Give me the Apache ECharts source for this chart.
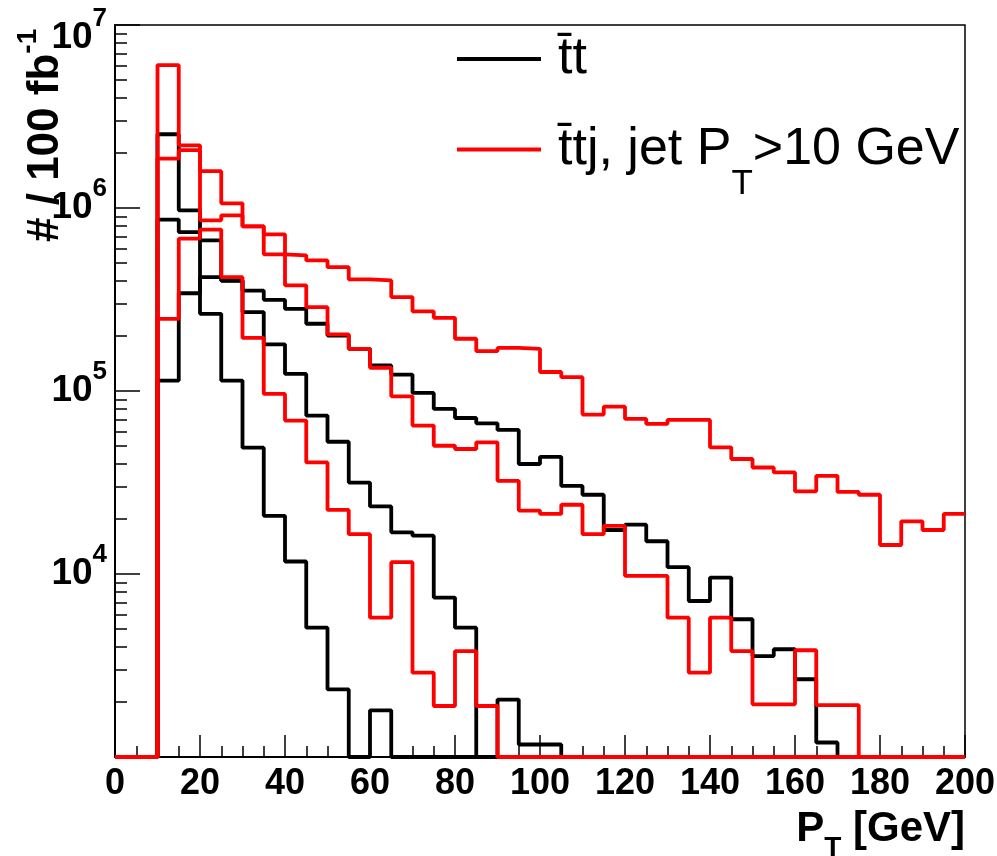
<!DOCTYPE html>
<html>
<head>
<meta charset="utf-8">
<script src="https://cdn.jsdelivr.net/npm/echarts@6/dist/echarts.min.js"></script>
<style>
  html, body { margin: 0; padding: 0; background: #fff; }
  #chart { width: 997px; height: 856px; }
</style>
</head>
<body>
<div id="chart"></div>
<script>
// ---- data: histogram contents per 5 GeV bin, bins [0,5) ... [195,200) ----
const BIN_WIDTH = 5;
const X_MIN = 0, X_MAX = 200;
const Y_MIN = 1e3, Y_MAX = 1e7;
const X_TICK_LABELS = [0, 20, 40, 60, 80, 100, 120, 140, 160, 180, 200];
const Y_TICK_LABELS = [1e4, 1e5, 1e6, 1e7];

const NAME_TT  = 't\u0304t';
const NAME_TTJ = 't\u0304tj, jet P_T>10 GeV';

// ttbar (black), three distributions
const ttA = [0, 0, 1.14e5, 3.42e5, 4.19e5, 4.00e5, 3.54e5, 3.15e5, 2.81e5, 2.33e5,
             2.01e5, 1.70e5, 1.38e5, 1.23e5, 9.76e4, 7.98e4, 7.12e4, 6.66e4, 6.13e4, 3.99e4,
             4.37e4, 3.03e4, 2.71e4, 1.74e4, 1.86e4, 1.51e4, 1.09e4, 7.12e3, 9.56e3, 5.66e3,
             3.56e3, 3.88e3, 2.66e3, 1.20e3, 0, 0, 0, 0, 0, 0];
const ttB = [0, 0, 8.64e5, 7.39e5, 6.66e5, 4.02e5, 2.70e5, 1.80e5, 1.24e5, 7.34e4,
             5.28e4, 3.16e4, 2.34e4, 1.69e4, 1.62e4, 7.43e3, 5.09e3, 0, 0, 0,
             0, 0, 0, 0, 0, 0, 0, 0, 0, 0,
             0, 0, 0, 0, 0, 0, 0, 0, 0, 0];
const ttC = [0, 0, 2.53e6, 9.71e5, 2.64e5, 1.14e5, 4.90e4, 2.08e4, 1.17e4, 5.09e3,
             2.34e3, 0, 1.80e3, 0, 0, 0, 0, 0, 2.06e3, 1.17e3,
             1.17e3, 0, 0, 0, 0, 0, 0, 0, 0, 0,
             0, 0, 0, 0, 0, 0, 0, 0, 0, 0];

// ttbar + jet (red), three distributions
const ttjA = [0, 0, 6.04e6, 2.20e6, 1.59e6, 1.06e6, 7.94e5, 5.58e5, 5.51e5, 5.17e5,
              4.75e5, 4.07e5, 4.02e5, 3.26e5, 2.72e5, 2.51e5, 1.93e5, 1.65e5, 1.72e5, 1.70e5,
              1.27e5, 1.19e5, 7.43e4, 8.21e4, 7.04e4, 6.61e4, 6.95e4, 6.95e4, 4.92e4, 4.25e4,
              3.82e4, 3.59e4, 2.83e4, 3.44e4, 2.81e4, 2.71e4, 1.44e4, 1.94e4, 1.74e4, 2.13e4];
const ttjB = [0, 0, 1.86e6, 2.07e6, 8.56e5, 9.12e5, 7.94e5, 7.18e5, 3.78e5, 2.87e5,
              2.04e5, 1.70e5, 1.34e5, 9.35e4, 6.47e4, 5.02e4, 4.82e4, 5.24e4, 3.23e4, 2.22e4,
              2.13e4, 2.39e4, 1.65e4, 1.83e4, 9.76e3, 9.76e3, 5.77e3, 2.89e3, 5.77e3, 3.79e3,
              1.94e3, 1.94e3, 3.83e3, 1.92e3, 1.92e3, 0, 0, 0, 0, 0];
const ttjC = [0, 0, 2.48e5, 6.80e5, 7.62e5, 4.19e5, 1.95e5, 9.64e4, 6.89e4, 4.07e4,
              2.24e4, 1.65e4, 5.77e3, 1.16e4, 2.89e3, 1.90e3, 3.79e3, 1.90e3, 0, 0,
              0, 0, 0, 0, 0, 0, 0, 0, 0, 0,
              0, 0, 0, 0, 0, 0, 0, 0, 0, 0];

// ---- build step-histogram series (empty bins drawn on the frame floor) ----
function histData(vals) {
  const out = [];
  for (let i = 0; i < vals.length; i++) {
    out.push([X_MIN + i * BIN_WIDTH, vals[i] > 0 ? vals[i] : Y_MIN]);
  }
  const last = vals[vals.length - 1];
  out.push([X_MIN + vals.length * BIN_WIDTH, last > 0 ? last : Y_MIN]);
  return out;
}
function histSeries(name, vals, color) {
  return {
    name: name, type: 'line', step: 'end', symbol: 'none', showSymbol: false,
    clip: false, animation: false, silent: true,
    data: histData(vals),
    lineStyle: { color: color, width: 3.8 },
    itemStyle: { color: color }
  };
}

// minor tick positions on the log axis (2..9 x 10^n)
const minorY = [];
for (let e = 3; e < 7; e++) for (let k = 2; k <= 9; k++) minorY.push(k * Math.pow(10, e));

const FONT = "'Liberation Sans', Arial, sans-serif";

const chart = echarts.init(document.getElementById('chart'), null, { renderer: 'canvas' });
chart.setOption({
  backgroundColor: '#fff',
  animation: false,
  grid: { left: 115, right: 32, top: 25, bottom: 99, show: true, borderColor: '#000', borderWidth: 1.5,
          containLabel: false, outerBoundsMode: 'none' },
  xAxis: {
    type: 'value', min: X_MIN, max: X_MAX, interval: 20,
    axisLine: { show: true, onZero: false, lineStyle: { color: '#000', width: 2 } },
    axisTick: { show: true, inside: true, length: 22, lineStyle: { color: '#000', width: 1.5 } },
    minorTick: { show: true, splitNumber: 4, length: 11, lineStyle: { color: '#000', width: 1.5 } },
    splitLine: { show: false },
    axisLabel: {
      show: true, margin: 9, color: '#000', fontFamily: FONT, fontWeight: 'bold', fontSize: 36,
      customValues: X_TICK_LABELS, showMinLabel: true, showMaxLabel: true
    }
  },
  yAxis: [{
    type: 'log', logBase: 10, min: Y_MIN, max: Y_MAX, position: 'left',
    axisLine: { show: true, onZero: false, lineStyle: { color: '#000', width: 2 } },
    axisTick: { show: true, inside: true, length: 25, lineStyle: { color: '#000', width: 1.5 } },
    splitLine: { show: false },
    axisLabel: {
      show: true, margin: 8, color: '#000',
      customValues: Y_TICK_LABELS,
      formatter: function (v) {
        const e = Math.round(Math.log10(v));
        if (v >= Y_MAX) return '{bt|10}{st|' + e + '}';
        return '{b|10}{s|' + e + '}';
      },
      rich: {
        b: { fontFamily: FONT, fontWeight: 'bold', fontSize: 37, lineHeight: 37, color: '#000' },
        s: { fontFamily: FONT, fontWeight: 'bold', fontSize: 26, lineHeight: 26, color: '#000', padding: [0, 0, 38, 0] },
        bt: { fontFamily: FONT, fontWeight: 'bold', fontSize: 37, lineHeight: 37, color: '#000', padding: [26, 0, 0, 0] },
        st: { fontFamily: FONT, fontWeight: 'bold', fontSize: 26, lineHeight: 26, color: '#000', padding: [26, 0, 38, 0] }
      }
    }
  }, {
    type: 'log', logBase: 10, min: Y_MIN, max: Y_MAX, position: 'left', offset: 0,
    axisLine: { show: false },
    axisLabel: { show: false },
    splitLine: { show: false },
    axisTick: { show: true, inside: true, length: 12, customValues: minorY,
                lineStyle: { color: '#000', width: 1.5 } }
  }],
  legend: {
    show: true, orient: 'vertical', left: 452, top: 28,
    itemWidth: 84, itemHeight: 4, itemGap: 12, icon: 'rect',
    data: [NAME_TT, NAME_TTJ],
    selectedMode: false,
    formatter: function (name) {
      if (name === NAME_TTJ) return '{n|t\u0304tj, jet P}{sub|T}{n|>10 GeV}';
      return '{n|' + name + '}';
    },
    textStyle: {
      color: '#000', fontFamily: FONT, fontSize: 52, padding: [0, 0, 0, 12],
      rich: {
        n: { fontFamily: FONT, fontSize: 52, lineHeight: 60, color: '#000' },
        sub: { fontFamily: FONT, fontSize: 35, lineHeight: 35, color: '#000', padding: [70, 0, 0, 0] }
      }
    }
  },
  graphic: [
    {
      type: 'text', x: 46, y: 242, rotation: Math.PI / 2, silent: true,
      style: {
        text: '{m|# / 100 fb}{s|-1}', align: 'left', verticalAlign: 'middle',
        rich: {
          m: { fontFamily: FONT, fontWeight: 'bold', fontSize: 44, lineHeight: 44, fill: '#000' },
          s: { fontFamily: FONT, fontWeight: 'bold', fontSize: 28, lineHeight: 28, fill: '#000', padding: [0, 0, 36, 0] }
        }
      }
    },
    {
      type: 'text', x: 965, y: 829, silent: true,
      style: {
        text: '{m|P}{s|T}{m| [GeV]}', align: 'right', verticalAlign: 'middle',
        rich: {
          m: { fontFamily: FONT, fontWeight: 'bold', fontSize: 42, lineHeight: 42, fill: '#000' },
          s: { fontFamily: FONT, fontWeight: 'bold', fontSize: 28, lineHeight: 28, fill: '#000', padding: [38, 0, 0, 0] }
        }
      }
    }
  ],
  series: [
    histSeries(NAME_TT, ttA, '#000000'),
    histSeries(NAME_TT, ttB, '#000000'),
    histSeries(NAME_TT, ttC, '#000000'),
    histSeries(NAME_TTJ, ttjA, '#ff0000'),
    histSeries(NAME_TTJ, ttjB, '#ff0000'),
    histSeries(NAME_TTJ, ttjC, '#ff0000')
  ]
});
</script>
</body>
</html>
